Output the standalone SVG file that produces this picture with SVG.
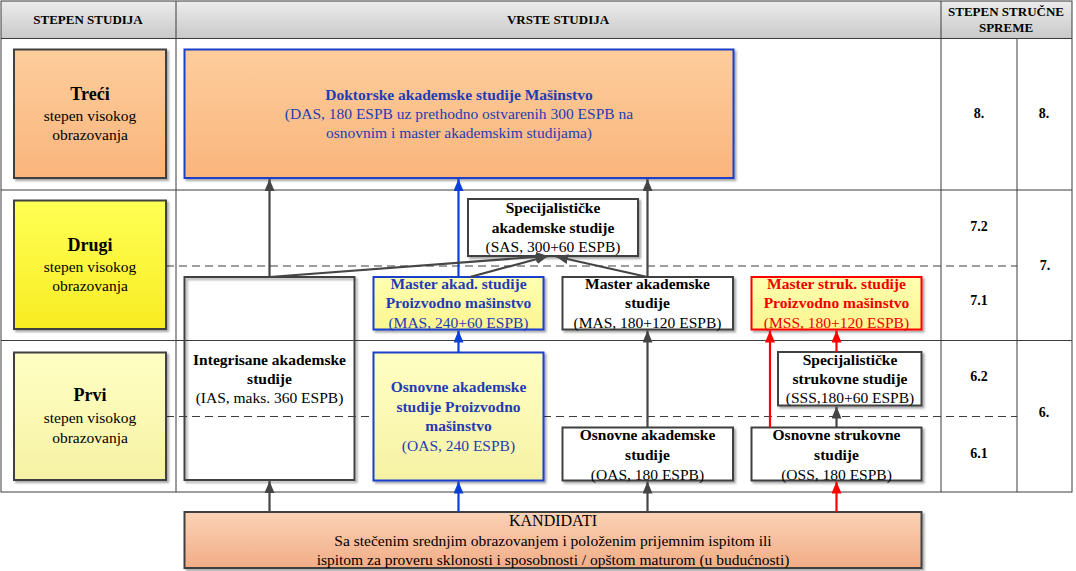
<svg xmlns="http://www.w3.org/2000/svg" width="1076" height="571" viewBox="0 0 1076 571" font-family="'Liberation Serif', 'DejaVu Serif', 'Times New Roman', serif">
<style>
text{font-family:'Liberation Serif','DejaVu Serif','Times New Roman',serif;fill:#000;dominant-baseline:central;text-anchor:middle}
.hd{font-size:13px;font-weight:bold}
.big{font-size:18px;font-weight:bold}
.t{font-size:15.5px}
.b{font-size:15.5px;font-weight:bold}
.num{font-size:14px;font-weight:bold}
.blue{fill:#1f3cb4}
.red{fill:#f00000}
.grid{stroke:#3c3c3c;stroke-width:1;fill:none}
.dash{stroke:#3c3c3c;stroke-width:1;stroke-dasharray:8 5;fill:none}
.box{stroke:#404040;stroke-width:2}
.bbox{stroke:#1d3fcc;stroke-width:2}
.rbox{stroke:#ff0000;stroke-width:2}
.ag{stroke:#454545;stroke-width:2.2;fill:none;marker-end:url(#mg)}
.ab{stroke:#0b3fd6;stroke-width:2.2;fill:none;marker-end:url(#mb)}
.ar{stroke:#ff0000;stroke-width:2.2;fill:none;marker-end:url(#mr)}
</style>
<defs>
<linearGradient id="gHead" x1="0" y1="0" x2="0" y2="1"><stop offset="0" stop-color="#ececec"/><stop offset="1" stop-color="#c9c9c9"/></linearGradient>
<linearGradient id="gOr" x1="0" y1="0" x2="0" y2="1"><stop offset="0" stop-color="#fdcd9c"/><stop offset="1" stop-color="#fab57c"/></linearGradient>
<linearGradient id="gYel" x1="0" y1="0" x2="0" y2="1"><stop offset="0" stop-color="#ffff55"/><stop offset="1" stop-color="#f8ec22"/></linearGradient>
<linearGradient id="gPale" x1="0" y1="0" x2="0" y2="1"><stop offset="0" stop-color="#ffffc4"/><stop offset="1" stop-color="#f6f2a4"/></linearGradient>
<linearGradient id="gPy" x1="0" y1="0" x2="0" y2="1"><stop offset="0" stop-color="#ffffb0"/><stop offset="1" stop-color="#fbf590"/></linearGradient>
<linearGradient id="gKand" x1="0" y1="0" x2="0" y2="1"><stop offset="0" stop-color="#fbd3b6"/><stop offset="1" stop-color="#f2ac86"/></linearGradient>
<filter id="sh" x="-10%" y="-10%" width="120%" height="130%"><feDropShadow dx="2" dy="2" stdDeviation="1.2" flood-color="#000" flood-opacity="0.35"/></filter>
<marker id="mg" viewBox="0 0 12 10" refX="12" refY="5" markerWidth="12" markerHeight="10" markerUnits="userSpaceOnUse" orient="auto"><path d="M0,0 L12,5 L0,10 z" fill="#454545"/></marker>
<marker id="mb" viewBox="0 0 12 10" refX="12" refY="5" markerWidth="12" markerHeight="10" markerUnits="userSpaceOnUse" orient="auto"><path d="M0,0 L12,5 L0,10 z" fill="#0b3fd6"/></marker>
<marker id="mr" viewBox="0 0 12 10" refX="12" refY="5" markerWidth="12" markerHeight="10" markerUnits="userSpaceOnUse" orient="auto"><path d="M0,0 L12,5 L0,10 z" fill="#ff0000"/></marker>
</defs>
<rect width="1076" height="571" fill="#fff"/>
<g id="table">
<rect x="1" y="1" width="1071" height="37.5" fill="url(#gHead)"/>
<rect x="1" y="1" width="1071" height="491" class="grid"/>
<line x1="1" y1="38.5" x2="1072" y2="38.5" class="grid"/>
<line x1="1" y1="190" x2="1072" y2="190" class="grid"/>
<line x1="1" y1="340.5" x2="1072" y2="340.5" class="grid"/>
<line x1="176" y1="1" x2="176" y2="492" class="grid"/>
<line x1="941" y1="1" x2="941" y2="492" class="grid"/>
<line x1="1017" y1="38.5" x2="1017" y2="492" class="grid"/>
<line x1="166" y1="266" x2="1017" y2="266" class="dash"/>
<line x1="166" y1="416.5" x2="1017" y2="416.5" class="dash"/>
<text x="88" y="19" class="hd">STEPEN STUDIJA</text>
<text x="558" y="19" class="hd">VRSTE STUDIJA</text>
<text x="1006" y="11" class="hd">STEPEN STRUČNE</text>
<text x="1006" y="27" class="hd">SPREME</text>
<text x="979" y="113" class="num">8.</text>
<text x="1044" y="113" class="num">8.</text>
<text x="979" y="226" class="num">7.2</text>
<text x="979" y="300" class="num">7.1</text>
<text x="1045" y="265" class="num">7.</text>
<text x="979" y="376" class="num">6.2</text>
<text x="979" y="453" class="num">6.1</text>
<text x="1044" y="412" class="num">6.</text>
</g>
<g id="treci">
<rect x="14" y="49.5" width="152" height="128.5" fill="url(#gOr)" class="box" filter="url(#sh)"/>
<text x="90" y="94" class="big">Treći</text>
<text x="90" y="115" class="t">stepen visokog</text>
<text x="90" y="134" class="t">obrazovanja</text>
</g>
<g id="drugi">
<rect x="14" y="200.5" width="152" height="128.5" fill="url(#gYel)" class="box" filter="url(#sh)"/>
<text x="90" y="245" class="big">Drugi</text>
<text x="90" y="266" class="t">stepen visokog</text>
<text x="90" y="285" class="t">obrazovanja</text>
</g>
<g id="prvi">
<rect x="14" y="352.5" width="152" height="127.5" fill="url(#gPale)" class="box" filter="url(#sh)"/>
<text x="90" y="395" class="big">Prvi</text>
<text x="90" y="417" class="t">stepen visokog</text>
<text x="90" y="437" class="t">obrazovanja</text>
</g>
<g id="das">
<rect x="184.5" y="49.5" width="549" height="128.5" fill="url(#gOr)" class="bbox" filter="url(#sh)"/>
<text x="459" y="94" class="b blue">Doktorske akademske studije Mašinstvo</text>
<text x="459" y="113" class="t blue">(DAS, 180 ESPB uz prethodno ostvarenih 300 ESPB na</text>
<text x="459" y="132" class="t blue">osnovnim i master akademskim studijama)</text>
</g>
<g id="ias">
<rect x="184.5" y="277" width="170" height="203" fill="none" class="box" filter="url(#sh)"/>
<text x="269.5" y="359" class="b">Integrisane akademske</text>
<text x="269.5" y="378" class="b">studije</text>
<text x="269.5" y="397.5" class="t">(IAS, maks. 360 ESPB)</text>
</g>
<g id="sas">
<rect x="468" y="199" width="170" height="57" fill="#fff" class="box" filter="url(#sh)"/>
<text x="553" y="207.5" class="b">Specijalističke</text>
<text x="553" y="227" class="b">akademske studije</text>
<text x="553" y="246.5" class="t">(SAS, 300+60 ESPB)</text>
</g>
<g id="mas-pm">
<rect x="373.5" y="277" width="170" height="52.5" fill="url(#gPy)" class="bbox" filter="url(#sh)"/>
<text x="458.5" y="283.5" class="b blue">Master akad. studije</text>
<text x="458.5" y="302.5" class="b blue">Proizvodno mašinstvo</text>
<text x="458.5" y="322" class="t blue">(MAS, 240+60 ESPB)</text>
</g>
<g id="mas">
<rect x="562.5" y="277" width="170.5" height="52.5" fill="#fff" class="box" filter="url(#sh)"/>
<text x="647.5" y="283.5" class="b">Master akademske</text>
<text x="647.5" y="302.5" class="b">studije</text>
<text x="647.5" y="322" class="t">(MAS, 180+120 ESPB)</text>
</g>
<g id="mss">
<rect x="751.5" y="277" width="170" height="52.5" fill="url(#gPy)" class="rbox" filter="url(#sh)"/>
<text x="836.5" y="283.5" class="b red">Master struk. studije</text>
<text x="836.5" y="302.5" class="b red">Proizvodno mašinstvo</text>
<text x="836.5" y="322" class="t red">(MSS, 180+120 ESPB)</text>
</g>
<g id="oas-pm">
<rect x="373.5" y="352.5" width="170" height="128" fill="url(#gPale)" class="bbox" filter="url(#sh)"/>
<text x="458.5" y="386.5" class="b blue">Osnovne akademske</text>
<text x="458.5" y="406" class="b blue">studije Proizvodno</text>
<text x="458.5" y="425.5" class="b blue">mašinstvo</text>
<text x="458.5" y="445.5" class="t blue">(OAS, 240 ESPB)</text>
</g>
<g id="sss">
<rect x="778" y="352" width="143.5" height="53.5" fill="#fff" class="box" filter="url(#sh)"/>
<text x="850" y="359" class="b">Specijalističke</text>
<text x="850" y="378" class="b">strukovne studije</text>
<text x="850" y="397.5" class="t">(SSS,180+60 ESPB)</text>
</g>
<g id="oas">
<rect x="562.5" y="427.5" width="170.5" height="53" fill="#fff" class="box" filter="url(#sh)"/>
<text x="647.5" y="434" class="b">Osnovne akademske</text>
<text x="647.5" y="454.5" class="b">studije</text>
<text x="647.5" y="474" class="t">(OAS, 180 ESPB)</text>
</g>
<g id="oss">
<rect x="751.5" y="427.5" width="170" height="53" fill="#fff" class="box" filter="url(#sh)"/>
<text x="836.5" y="434" class="b">Osnovne strukovne</text>
<text x="836.5" y="454.5" class="b">studije</text>
<text x="836.5" y="474" class="t">(OSS, 180 ESPB)</text>
</g>
<g id="kandidati">
<rect x="184.5" y="512" width="737" height="56" fill="url(#gKand)" class="box" filter="url(#sh)"/>
<text x="553" y="520.5" class="t" style="font-size:16px">KANDIDATI</text>
<text x="553" y="540" class="t">Sa stečenim srednjim obrazovanjem i položenim prijemnim ispitom ili</text>
<text x="553" y="559" class="t">ispitom za proveru sklonosti i sposobnosti / opštom maturom (u budućnosti)</text>
</g>
<g id="connectors">
<path class="ag" d="M269.5,512 V481"/>
<path class="ab" d="M458.5,512 V481.5"/>
<path class="ag" d="M647.5,512 V481.5"/>
<path class="ar" d="M836.5,512 V481.5"/>
<path class="ag" d="M269.5,277 V179"/>
<path class="ab" d="M458.5,277 V179"/>
<path class="ag" d="M647.5,277 V179"/>
<path class="ab" d="M458.5,352.5 V330.5"/>
<path class="ag" d="M647.5,427.5 V330.5"/>
<path class="ar" d="M770,427.5 V330.5"/>
<path class="ar" d="M836.5,352 V330.5"/>
<path class="ag" d="M836.5,427.5 V406.5"/>
<path class="ag" d="M269.5,277 L548,256"/>
<path class="ag" d="M470,277 L548,256"/>
<path class="ag" d="M647.5,277 L556,256.5"/>
</g>
</svg>
